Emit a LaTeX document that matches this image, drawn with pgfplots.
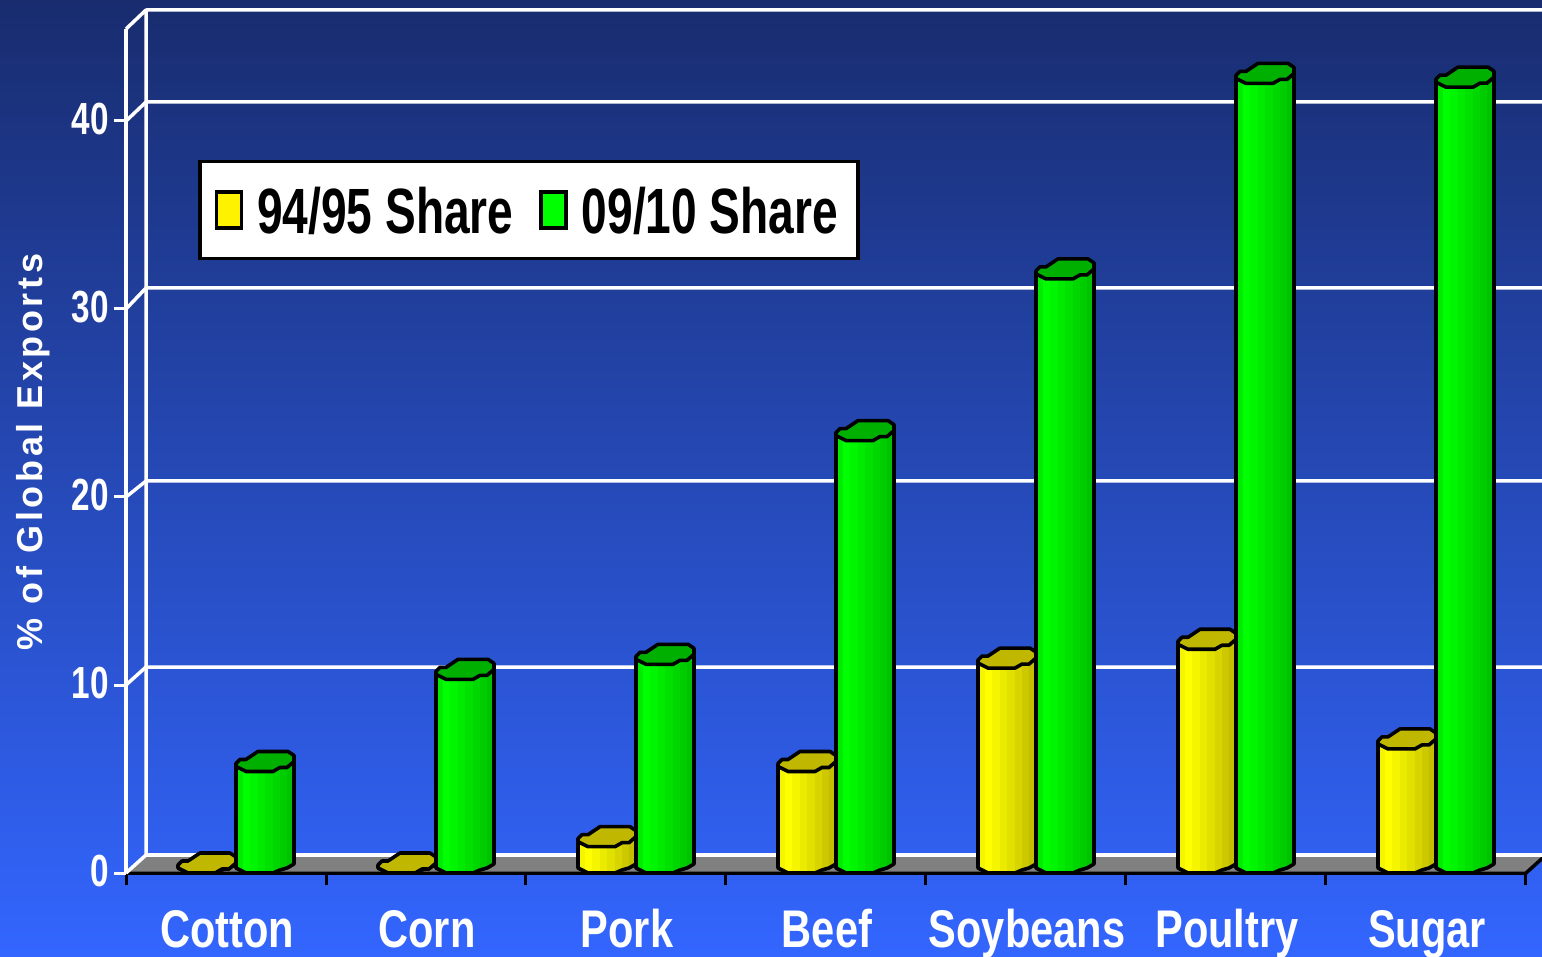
\documentclass[border=0pt]{standalone}
\usepackage{fontspec}
\usepackage{pgfplots}
\usepackage{pgfplotstable}
\pgfplotsset{compat=1.18}
\setmainfont{Liberation Sans}
\newfontfamily\nb{Liberation Sans}[FakeStretch=0.74]
\newfontfamily\nc{Liberation Sans}[FakeStretch=0.785]
\newfontfamily\nd{Liberation Sans}[FakeStretch=0.72]
\newfontfamily\ls{Liberation Sans}[LetterSpace=10]
\definecolor{bgtop}{RGB}{24,44,110}
\definecolor{bgbot}{RGB}{51,102,255}
\definecolor{floorc}{RGB}{128,128,128}
\definecolor{ytop}{RGB}{192,184,0}
\definecolor{gtop}{RGB}{0,176,0}
\definecolor{yc1}{RGB}{245,245,0}\definecolor{yc2}{RGB}{255,255,0}\definecolor{yc3}{RGB}{245,245,0}\definecolor{yc4}{RGB}{235,235,0}
\definecolor{yc5}{RGB}{225,225,0}\definecolor{yc6}{RGB}{215,212,0}\definecolor{yc7}{RGB}{205,200,0}\definecolor{yc8}{RGB}{195,190,0}
\definecolor{gc1}{RGB}{0,235,0}\definecolor{gc2}{RGB}{0,255,0}\definecolor{gc3}{RGB}{0,245,0}\definecolor{gc4}{RGB}{0,235,0}
\definecolor{gc5}{RGB}{0,225,0}\definecolor{gc6}{RGB}{0,215,0}\definecolor{gc7}{RGB}{0,205,0}\definecolor{gc8}{RGB}{0,195,0}
\pgfplotstableread{
x v
0.5 0
1.5 0
2.5 1.4
3.5 5.4
4.5 10.9
5.5 11.9
6.5 6.6
}\earlyshare
\pgfplotstableread{
x v
0.5 5.4
1.5 10.3
2.5 11.1
3.5 23.0
4.5 31.6
5.5 42.0
6.5 41.8
}\lateshare
\newdimen\barH
% one vertical strip of the body: x1,p1,x2,p2,colour
\newcommand\barstrip[5]{%
  \pgfsetfillcolor{#5}%
  \pgfpathmoveto{\pgfqpoint{#1pt}{\dimexpr#2pt-\barH\relax}}%
  \pgfpathlineto{\pgfqpoint{#3pt}{\dimexpr#4pt-\barH\relax}}%
  \pgfpathlineto{\pgfqpoint{#3pt}{#4pt}}%
  \pgfpathlineto{\pgfqpoint{#1pt}{#2pt}}%
  \pgfpathclose\pgfusepath{fill}}
\newcommand\pq[2]{\pgfqpoint{#1pt}{#2pt}}
\newcommand\declarebar[3]{% name, x offset, colour prefix
\pgfdeclareplotmark{#1}{%
  \barH=\barv\dimexpr18.8pt\relax
  \pgftransformshift{\pgfqpoint{#2pt}{0pt}}%
  \pgfsetroundjoin
  \barstrip{0}{5}{7.4}{1.5}{#3c1}%
  \barstrip{7}{1.5}{14.4}{0}{#3c2}%
  \barstrip{14}{0}{22.4}{0}{#3c3}%
  \barstrip{22}{0}{29.4}{0}{#3c4}%
  \barstrip{29}{0}{37.4}{0}{#3c5}%
  \barstrip{37}{0}{44.4}{4}{#3c6}%
  \barstrip{44}{4}{51.4}{4}{#3c7}%
  \barstrip{51}{4}{58}{10}{#3c8}%
  \pgfsetstrokecolor{black}\pgfsetlinewidth{3.6pt}%
  \pgfpathmoveto{\pq{0}{5}}%
  \pgfpathlineto{\pgfqpoint{0pt}{\dimexpr5pt-\barH\relax}}%
  \pgfpathlineto{\pgfqpoint{10pt}{-\barH}}%
  \pgfpathlineto{\pgfqpoint{37pt}{-\barH}}%
  \pgfpathlineto{\pgfqpoint{44pt}{\dimexpr3pt-\barH\relax}}%
  \pgfpathlineto{\pgfqpoint{51pt}{\dimexpr5pt-\barH\relax}}%
  \pgfpathlineto{\pgfqpoint{58pt}{\dimexpr9pt-\barH\relax}}%
  \pgfpathlineto{\pq{58}{10}}%
  \pgfusepath{stroke}%
  \pgfsetfillcolor{#3top}%
  \pgfpathmoveto{\pq{0}{5}}\pgfpathlineto{\pq{0}{8}}\pgfpathlineto{\pq{4}{12}}%
  \pgfpathlineto{\pq{10}{12}}\pgfpathlineto{\pq{22}{20}}\pgfpathlineto{\pq{52}{20}}%
  \pgfpathlineto{\pq{58}{16}}\pgfpathlineto{\pq{58}{10}}\pgfpathlineto{\pq{51}{4}}%
  \pgfpathlineto{\pq{44}{4}}\pgfpathlineto{\pq{37}{0}}\pgfpathlineto{\pq{10}{0}}%
  \pgfpathclose\pgfusepath{fill,stroke}%
}}
\declarebar{earlybar}{-48}{y}
\declarebar{latebar}{10}{g}
\pgfplotsset{
  barplot/.style={scatter, only marks, mark=#1,
    scatter src=y,
    scatter/@pre marker code/.code={},
    scatter/@post marker code/.code={},
    visualization depends on={\thisrow{v} \as \barv}},
}
\begin{document}
\begin{tikzpicture}[x=1pt,y=1pt]
\useasboundingbox (0,0) rectangle (1542,956);
\shade[top color=bgtop,bottom color=bgbot,shading angle=0] (0,0) rectangle (1542,956);
\begin{axis}[
  at={(126pt,83pt)}, anchor=south west,
  scale only axis, width=1400pt, height=844pt,
  xmin=0, xmax=7, ymin=0, ymax=44.894,
  clip=false,
  axis x line*=bottom, axis y line*=left,
  x axis line style={black,line width=3.5pt,-},
  y axis line style={white,line width=3.5pt,-},
  tick align=outside,
  major tick length=12pt,
  xtick={0,1,2,3,4,5,6,7},
  x tick label as interval,
  xticklabels={Cotton,Corn,Pork,Beef,Soybeans,Poultry,Sugar},
  x tick style={black,line width=3pt},
  y tick style={white,line width=3pt},
  xticklabel style={font=\nc\bfseries\fontsize{53}{53}\selectfont,text=white,anchor=base,yshift=-62pt,xshift=1pt,inner sep=0pt},
  ytick={0,10,20,30,40},
  yticklabel style={font=\nb\bfseries\fontsize{45}{45}\selectfont,text=white,anchor=east,inner sep=0pt,xshift=-5pt,yshift=1.5pt},
  /pgf/number format/assume math mode=true,
  ylabel={\ls\bfseries\fontsize{36}{36}\selectfont\% of Global Exports},
  every axis y label/.style={at={(-93pt,421pt)},rotate=90,anchor=center,text=white},
  legend columns=2,
  legend style={at={(72pt,713pt)},anchor=north west,draw=black,line width=3.5pt,fill=white,
    font=\nd\bfseries\fontsize{64}{64}\selectfont,text=black,
    inner xsep=15pt,inner ysep=22pt,
    /tikz/every even column/.append style={column sep=24pt}},
]
\path[fill=floorc] (axis cs:0,0) ++(0pt,1.5pt) -- ++(20pt,16.5pt) -- ++(1400pt,0pt) -- ++(-20pt,-16.5pt) -- cycle;
\draw[black,line width=3.5pt] (axis cs:7,0) -- ++(20pt,18pt);
\draw[white,line width=3.5pt,line join=round] (axis cs:0,0) -- ++(20pt,18pt) -- ++(0pt,845pt) -- ++(1420pt,0pt);
\draw[white,line width=3.5pt] (axis cs:0,44.894) -- ++(20pt,19pt);
\draw[white,line width=3.5pt] (axis cs:0,0) ++(20pt,18pt) -- ++(1420pt,0pt);
\draw[white,line width=3.5pt] (axis cs:0,10) -- ++(20pt,18pt) -- ++(1420pt,0pt);
\draw[white,line width=3.5pt] (axis cs:0,20) -- ++(20pt,16pt) -- ++(1420pt,0pt);
\draw[white,line width=3.5pt] (axis cs:0,30) -- ++(20pt,21pt) -- ++(1420pt,0pt);
\draw[white,line width=3.5pt] (axis cs:0,40) -- ++(20pt,19pt) -- ++(1420pt,0pt);
\addplot[barplot=earlybar,
  legend image code/.code={\draw[draw=black,line width=3.5pt,fill=yellow] (0pt,-18pt) rectangle (25pt,18pt);\path (37pt,0pt);}]
  table[x=x,y=v] {\earlyshare};
\addlegendentry{\rule{0pt}{47.5pt}94/95 Share}
\addplot[barplot=latebar,
  legend image code/.code={\draw[draw=black,line width=3.5pt,fill=green] (0pt,-18pt) rectangle (25pt,18pt);\path (37pt,0pt);}]
  table[x=x,y=v] {\lateshare};
\addlegendentry{\rule{0pt}{47.5pt}09/10 Share\rule{3pt}{0pt}}
\end{axis}
\end{tikzpicture}
\end{document}
